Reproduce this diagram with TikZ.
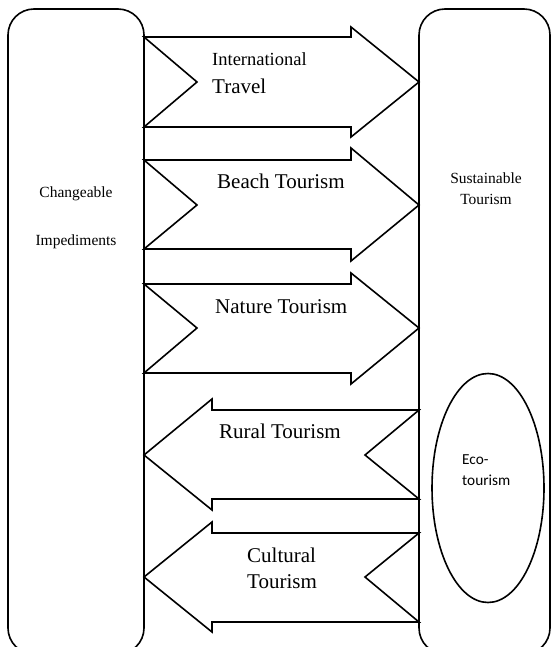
\documentclass[tikz,border=0pt]{standalone}
\usepackage{fontspec}
\usetikzlibrary{shapes.geometric}
\setmainfont{Liberation Serif}
\newfontfamily\calib{Carlito}
\begin{document}
\begin{tikzpicture}[x=1pt,y=-1pt,line join=miter,
  shp/.style={draw=black,line width=1.6pt},
  lbl/.style={inner sep=0pt,anchor=base west,font=\fontsize{21}{24}\selectfont},
  smlbl/.style={inner sep=0pt,anchor=base west,font=\fontsize{18.5}{22}\selectfont},
  boxlbl/.style={inner sep=0pt,anchor=base,font=\fontsize{15.5}{18}\selectfont},
  ecolbl/.style={inner sep=0pt,anchor=base west,font=\calib\fontsize{15.3}{18}\selectfont}]
\useasboundingbox (0,0) rectangle (551,647);
\clip (0,0) rectangle (551,647);
% side boxes
\draw[shp,rounded corners=26pt] (8,9) rectangle (144,654);
\draw[shp,rounded corners=26pt] (419,9) rectangle (550,654);
% ellipse
\node[shp,ellipse,minimum width=112pt,minimum height=229pt,inner sep=0pt] (eco) at (488,488) {};
% right-pointing notched arrows
\draw[shp] (144,37) -- (351,37) -- (351,27) -- (419,82) -- (351,137) -- (351,127) -- (144,127) -- (197,82) -- cycle;
\draw[shp] (144,160) -- (351,160) -- (351,148) -- (419,205) -- (351,261) -- (351,249) -- (144,249) -- (197,205) -- cycle;
\draw[shp] (144,284) -- (351,284) -- (351,273) -- (419,328) -- (351,384) -- (351,373) -- (144,373) -- (197,328) -- cycle;
% left-pointing notched arrows
\draw[shp] (419,410) -- (212,410) -- (212,399) -- (144,455) -- (212,510) -- (212,499) -- (419,499) -- (365,455) -- cycle;
\draw[shp] (419,533) -- (212,533) -- (212,522) -- (144,577) -- (212,632) -- (212,622) -- (419,622) -- (365,577) -- cycle;
% labels
\node[smlbl] (intl) at (212,66) {International};
\node[lbl] (trav) at (212,94) {Travel};
\node[lbl] (beach) at (217,188) {Beach Tourism};
\node[lbl] (nature) at (215,313) {Nature Tourism};
\node[lbl] (rural) at (219,438) {Rural Tourism};
\node[lbl] (cult) at (247,562) {Cultural};
\node[lbl] (cult2) at (247,588) {Tourism};
\node[boxlbl] (chg) at (76,197) {Changeable};
\node[boxlbl] (imp) at (76,245) {Impediments};
\node[boxlbl] (sus) at (486,183) {Sustainable};
\node[boxlbl] (sus2) at (486,204) {Tourism};
\node[ecolbl] (eco1) at (462,464) {Eco-};
\node[ecolbl] (eco2) at (462,485) {tourism};
\end{tikzpicture}
\end{document}
